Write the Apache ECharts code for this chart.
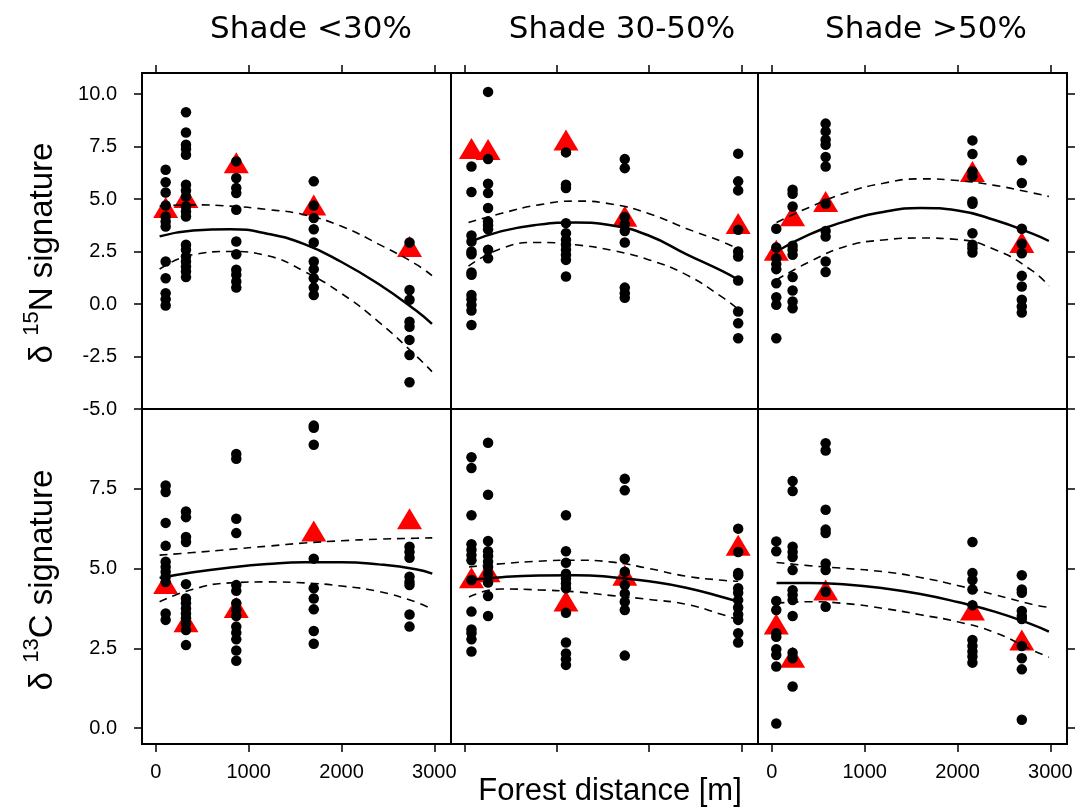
<!DOCTYPE html>
<html>
<head>
<meta charset="utf-8">
<script src="https://cdn.jsdelivr.net/npm/echarts@6/dist/echarts.min.js"></script>
<style>html,body{margin:0;padding:0;background:#fff}#c{width:1078px;height:808px}</style>
</head>
<body>
<div id="c"></div>
<script>
// ---- categories / labels ----
const shadeTitles = ['Shade <30%', 'Shade 30-50%', 'Shade >50%'];
const xTicks = [0, 1000, 2000, 3000];
const yTicksN = [-5, -2.5, 0, 2.5, 5, 7.5, 10];
const yTicksC = [0, 2.5, 5, 7.5];

// ---- sampling distances (m) for each shade class ----
const shade1X = [105, 324, 866, 1701, 2733];
const shade2X = [72, 252, 1097, 1735, 2965];
const shade3X = [47, 223, 579, 2161, 2693];

// ---- delta 15N individual values ----
const n1 = [
  [6.39, 5.8, 5.31, 4.69, 4.17, 3.93, 3.69, 2.02, 1.23, 0.51, 0.23, -0.07],
  [9.13, 8.17, 7.58, 7.38, 7.11, 5.68, 5.41, 5.12, 4.64, 4.4, 4.17, 2.82, 2.58, 2.26, 2.02, 1.78, 1.55, 1.28],
  [6.79, 6.0, 5.52, 5.28, 4.49, 2.98, 2.37, 1.63, 1.39, 1.07, 0.78],
  [5.84, 4.69, 4.09, 3.56, 2.93, 2.02, 1.66, 1.23, 0.78, 0.43],
  [2.93, 0.67, 0.2, -0.84, -1.08, -1.71, -2.43, -3.73]
];
const n2 = [
  [6.55, 5.33, 3.26, 2.98, 2.5, 2.37, 1.5, 1.39, 0.43, 0.23, -0.04, -0.31, -1.0],
  [10.1, 6.9, 5.73, 5.28, 4.57, 3.93, 3.75, 3.56, 2.58, 2.18],
  [7.22, 5.68, 5.52, 3.85, 3.37, 3.06, 2.82, 2.58, 2.34, 2.1, 1.31],
  [6.9, 6.47, 4.14, 3.8, 3.48, 2.93, 0.78, 0.51, 0.3],
  [7.16, 5.84, 5.41, 3.53, 2.5, 2.26, 1.12, -0.36, -0.92, -1.63]
];
const n3 = [
  [3.58, 2.69, 2.18, 1.9, 1.66, 0.99, 0.32, -0.04, -1.63],
  [5.44, 5.25, 4.64, 2.77, 2.58, 2.34, 1.28, 0.64, 0.12, -0.2],
  [8.59, 8.22, 7.82, 7.58, 7.0, 6.55, 4.77, 3.48, 3.21, 2.02, 1.52],
  [7.79, 7.14, 6.31, 6.08, 4.88, 4.77, 3.37, 2.82, 2.66, 2.45],
  [6.84, 5.76, 3.58, 2.87, 2.42, 1.34, 0.83, 0.2, -0.12, -0.41]
];
// reference (triangle) values 15N
const n1Tri = [4.6, 5.07, 6.73, 4.72, 2.74];
const n2Tri = [7.41, 7.36, 7.81, 4.18, 3.83];
const n3Tri = [2.56, 4.2, 4.88, 6.31, 2.93];

// ---- delta 13C individual values ----
const c1 = [
  [7.6, 7.4, 6.43, 5.71, 5.21, 5.05, 4.9, 4.74, 4.58, 3.59, 3.39],
  [6.79, 6.61, 5.99, 5.83, 4.51, 4.06, 3.91, 3.75, 3.59, 3.44, 3.28, 3.07, 2.6],
  [8.59, 8.44, 6.56, 6.11, 4.48, 4.3, 3.91, 3.7, 3.51, 3.18, 2.99, 2.78, 2.43, 2.11],
  [9.48, 9.41, 8.88, 5.31, 4.38, 4.06, 3.72, 3.04, 2.64],
  [5.68, 5.52, 5.34, 4.74, 4.58, 4.48, 3.56, 3.18]
];
const c2 = [
  [8.49, 8.15, 6.67, 5.76, 5.59, 5.42, 5.26, 4.64, 3.65, 3.09, 2.97, 2.78, 2.4],
  [8.94, 7.31, 5.86, 5.54, 5.39, 5.21, 5.05, 4.84, 4.56, 4.14, 3.51],
  [6.67, 5.54, 5.18, 4.84, 4.69, 4.53, 4.38, 3.61, 2.68, 2.34, 2.16, 1.98],
  [7.81, 7.45, 5.31, 4.9, 4.48, 4.22, 3.96, 3.7, 2.27],
  [6.25, 5.52, 4.86, 4.79, 4.38, 4.24, 4.01, 3.78, 3.56, 3.39, 2.97, 2.68]
];
const c3 = [
  [5.85, 5.54, 3.98, 3.7, 2.97, 2.86, 2.47, 2.29, 1.93, 0.14],
  [7.74, 7.43, 5.68, 5.52, 5.36, 4.95, 4.32, 4.17, 4.01, 3.51, 2.36, 2.19, 1.3],
  [8.93, 8.7, 6.84, 6.22, 6.11, 5.16, 4.95, 4.27, 3.8],
  [5.83, 4.86, 4.64, 4.34, 3.85, 2.76, 2.57, 2.4, 2.24, 2.05],
  [4.79, 4.34, 4.24, 3.67, 3.51, 3.42, 2.57, 2.19, 1.84, 0.26]
];
const c1Tri = [4.53, 3.33, 3.78, 6.18, 6.56];
const c2Tri = [4.71, 4.9, 3.98, 4.79, 5.73];
const c3Tri = [3.26, 2.22, 4.33, 3.7, 2.76];

// ---- fitted curves with confidence bands ----
const curveXN1 = [40, 400, 800, 1200, 1600, 2000, 2400, 2800, 2975];
const fitN1 = [3.22, 3.5, 3.56, 3.35, 2.85, 2.0, 0.95, -0.3, -0.95];
const upN1 = [4.66, 4.72, 4.66, 4.5, 4.25, 3.7, 2.85, 1.9, 1.35];
const loN1 = [1.66, 2.35, 2.5, 2.3, 1.55, 0.5, -0.85, -2.45, -3.22];

const curveXN2 = [40, 400, 800, 1200, 1600, 2000, 2400, 2800, 2965];
const fitN2 = [2.93, 3.47, 3.78, 3.88, 3.74, 3.25, 2.38, 1.55, 1.15];
const upN2 = [3.88, 4.32, 4.72, 4.9, 4.75, 4.3, 3.6, 2.95, 2.61];
const loN2 = [1.8, 2.65, 2.93, 2.82, 2.55, 2.1, 1.4, 0.3, -0.25];

const curveXN3 = [50, 400, 800, 1200, 1600, 2000, 2400, 2800, 2985];
const fitN3 = [2.5, 3.3, 3.95, 4.38, 4.57, 4.45, 4.0, 3.36, 3.0];
const upN3 = [3.88, 4.6, 5.3, 5.75, 5.96, 5.88, 5.65, 5.3, 5.12];
const loN3 = [1.15, 2.0, 2.75, 3.05, 3.14, 3.07, 2.6, 1.6, 0.86];

const curveXC1 = [40, 400, 800, 1200, 1600, 2000, 2400, 2800, 2978];
const fitC1 = [4.7, 4.88, 5.03, 5.14, 5.2, 5.2, 5.13, 4.98, 4.84];
const upC1 = [5.42, 5.5, 5.6, 5.7, 5.8, 5.87, 5.92, 5.95, 5.96];
const loC1 = [3.96, 4.35, 4.55, 4.58, 4.55, 4.45, 4.28, 3.95, 3.72];

const curveXC2 = [45, 400, 800, 1200, 1600, 2000, 2400, 2800, 2965];
const fitC2 = [4.64, 4.73, 4.78, 4.79, 4.73, 4.6, 4.4, 4.1, 3.96];
const upC2 = [5.05, 5.15, 5.23, 5.26, 5.2, 5.0, 4.76, 4.63, 4.6];
const loC2 = [4.11, 4.36, 4.33, 4.27, 4.15, 4.03, 3.88, 3.55, 3.39];

const curveXC3 = [50, 400, 800, 1200, 1600, 2000, 2400, 2800, 2985];
const fitC3 = [4.55, 4.55, 4.5, 4.38, 4.2, 3.95, 3.65, 3.25, 3.02];
const upC3 = [5.19, 5.09, 5.0, 4.9, 4.72, 4.47, 4.18, 3.88, 3.78];
const loC3 = [3.91, 3.96, 3.9, 3.75, 3.55, 3.33, 3.0, 2.45, 2.22];

// ---- assemble ----
const panels = [
  {x: shade1X, pts: n1, tri: n1Tri, cx: curveXN1, fit: fitN1, up: upN1, lo: loN1},
  {x: shade2X, pts: n2, tri: n2Tri, cx: curveXN2, fit: fitN2, up: upN2, lo: loN2},
  {x: shade3X, pts: n3, tri: n3Tri, cx: curveXN3, fit: fitN3, up: upN3, lo: loN3},
  {x: shade1X, pts: c1, tri: c1Tri, cx: curveXC1, fit: fitC1, up: upC1, lo: loC1},
  {x: shade2X, pts: c2, tri: c2Tri, cx: curveXC2, fit: fitC2, up: upC2, lo: loC2},
  {x: shade3X, pts: c3, tri: c3Tri, cx: curveXC3, fit: fitC3, up: upC3, lo: loC3}
];

const colLeft = [142, 451, 758];
const colWidth = [309, 307, 309];
const rowTop = [73, 409];
const rowHeight = [336, 335];
const FONT = '"Liberation Sans", Arial, sans-serif';

const grid = [], xAxis = [], yAxis = [], series = [];
panels.forEach((p, i) => {
  const r = Math.floor(i / 3), c = i % 3;
  grid.push({left: colLeft[c], top: rowTop[r], width: colWidth[c], height: rowHeight[r],
    show: true, borderColor: '#000', borderWidth: 2, backgroundColor: 'transparent', containLabel: false});
  xAxis.push({
    type: 'value', gridIndex: i, min: -150, max: 3180,
    position: r === 0 ? 'top' : 'bottom',
    axisLine: {show: false, onZero: false}, splitLine: {show: false},
    axisTick: {show: true, inside: false, length: 8, customValues: xTicks, lineStyle: {color: '#000', width: 1.5}},
    axisLabel: {show: r === 1 && c !== 1, customValues: xTicks, color: '#000', fontSize: 20, fontFamily: FONT, margin: 18,
      formatter: v => String(v)}
  });
  const yt = r === 0 ? yTicksN : yTicksC;
  yAxis.push({
    type: 'value', gridIndex: i,
    min: r === 0 ? -5 : -0.5, max: r === 0 ? 11 : 10,
    position: c === 2 ? 'right' : 'left',
    axisLine: {show: false, onZero: false}, splitLine: {show: false},
    axisTick: {show: c !== 1, inside: false, length: 8, customValues: yt, lineStyle: {color: '#000', width: 1.5}},
    axisLabel: {show: c === 0, customValues: yt, color: '#000', fontSize: 20, fontFamily: FONT, margin: 25,
      formatter: v => v.toFixed(1)}
  });
  series.push({
    type: 'scatter', xAxisIndex: i, yAxisIndex: i, symbol: 'triangle', symbolSize: [25, 21], z: 2,
    itemStyle: {color: '#ff0000', opacity: 1}, silent: true,
    data: p.tri.map((v, k) => [p.x[k], v])
  });
  const dots = [];
  p.pts.forEach((col, k) => col.forEach(v => dots.push([p.x[k], v])));
  series.push({
    type: 'scatter', xAxisIndex: i, yAxisIndex: i, symbol: 'circle', symbolSize: 10.5, z: 3,
    itemStyle: {color: '#000', opacity: 1}, silent: true, data: dots
  });
  const mk = (arr, dashed, w) => ({
    type: 'line', xAxisIndex: i, yAxisIndex: i, smooth: 0.5, symbol: 'none', z: 4, silent: true,
    lineStyle: {color: '#000', width: w, type: dashed ? [8, 6] : 'solid', opacity: 1},
    data: arr.map((v, k) => [p.cx[k], v])
  });
  series.push(mk(p.fit, false, 2.5), mk(p.up, true, 1.6), mk(p.lo, true, 1.6));
});

const titleCenters = [311, 622, 926];
const graphic = [];
shadeTitles.forEach((t, k) => graphic.push({
  type: 'text', x: titleCenters[k], y: 30, silent: true,
  style: {text: t, fill: '#000', fontSize: 31, fontFamily: '"DejaVu Sans", Verdana, sans-serif', align: 'center', verticalAlign: 'middle'}
}));
graphic.push({
  type: 'text', x: 610, y: 791, silent: true,
  style: {text: 'Forest distance [m]', fill: '#000', fontSize: 31, fontFamily: FONT, align: 'center', verticalAlign: 'middle'}
});
const yTitles = [['15', 'N', 253], ['13', 'C', 580]];
yTitles.forEach(([sup, el, yc]) => graphic.push({
  type: 'text', x: 40, y: yc, rotation: Math.PI / 2, silent: true,
  style: {
    text: '{m|δ }{s|' + sup + '}{m|' + el + ' signature}',
    fill: '#000', align: 'center', verticalAlign: 'middle',
    rich: {
      m: {fontSize: 33, fontFamily: FONT, verticalAlign: 'bottom', lineHeight: 38},
      s: {fontSize: 22, fontFamily: FONT, verticalAlign: 'top', lineHeight: 38}
    }
  }
}));

const chart = echarts.init(document.getElementById('c'), null, {renderer: 'canvas'});
chart.setOption({animation: false, backgroundColor: '#fff', grid, xAxis, yAxis, series, graphic});
</script>
</body>
</html>
